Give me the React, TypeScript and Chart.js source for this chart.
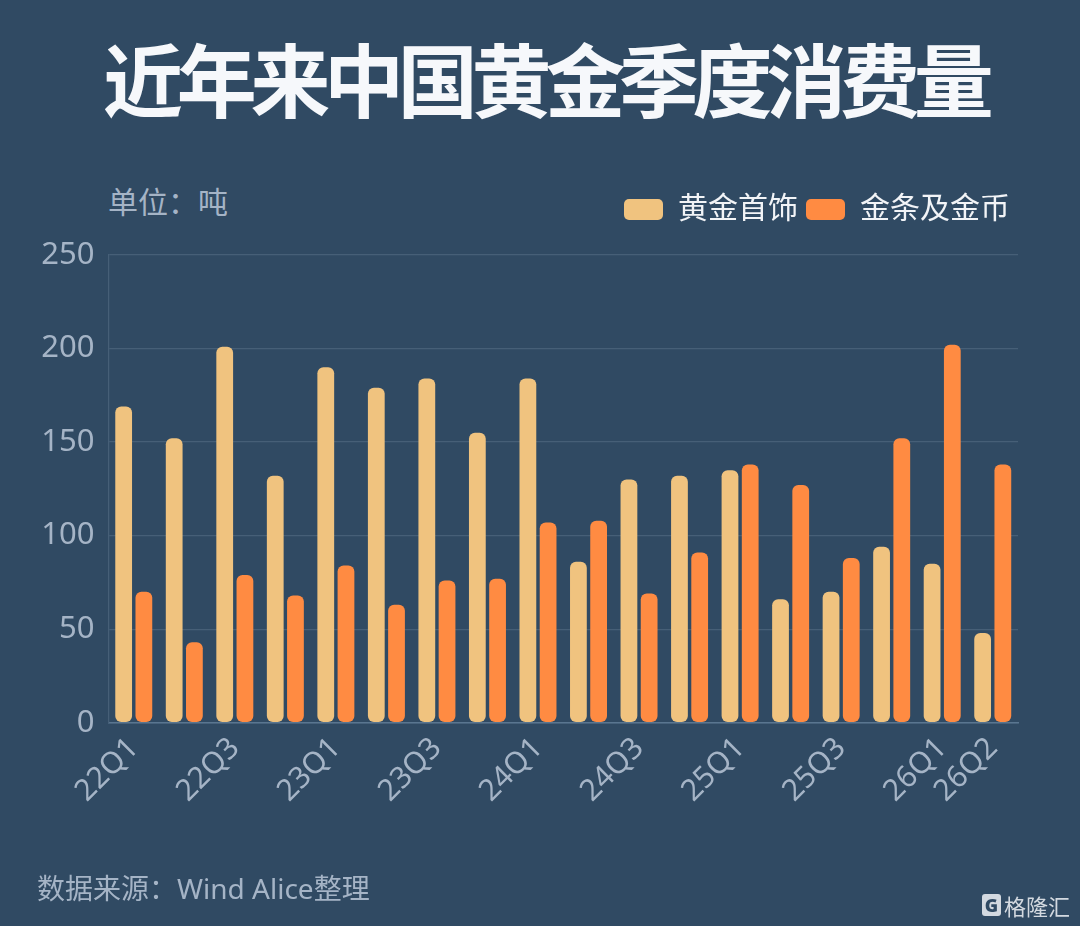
import React, { useEffect, useRef } from "react";
import { Chart, registerables } from "chart.js";

Chart.register(...registerables);

const categories = [
  "22Q1", "22Q2", "22Q3", "22Q4",
  "23Q1", "23Q2", "23Q3", "23Q4",
  "24Q1", "24Q2", "24Q3", "24Q4",
  "25Q1", "25Q2", "25Q3", "25Q4",
  "26Q1", "26Q2",
];
const jewelry = [169, 152, 201, 132, 190, 179, 184, 155, 184, 86, 130, 132, 135, 66, 70, 94, 85, 48];
const barsCoins = [70, 43, 79, 68, 84, 63, 76, 77, 107, 108, 69, 91, 138, 127, 88, 152, 202, 138];
const seriesNames = ["黄金首饰", "金条及金币"];
const yTicks = [0, 50, 100, 150, 200, 250];

const BG = "#304A63";
const TICK = "#A5B4C6";
const GRID = "#465F77";
const FONT = '"Noto Sans", "Noto Sans CJK SC", sans-serif';

export default function App() {
  const ref = useRef<HTMLCanvasElement | null>(null);

  useEffect(() => {
    if (!ref.current) return;
    const chart = new Chart(ref.current, {
      type: "bar",
      data: {
        labels: categories,
        datasets: [
          {
            label: seriesNames[0],
            data: jewelry,
            backgroundColor: "#F0C37F",
            borderRadius: 6,
            borderSkipped: false,
            barPercentage: 0.83,
            categoryPercentage: 0.8,
          },
          {
            label: seriesNames[1],
            data: barsCoins,
            backgroundColor: "#FF8B42",
            borderRadius: 6,
            borderSkipped: false,
            barPercentage: 0.83,
            categoryPercentage: 0.8,
          },
        ],
      },
      options: {
        responsive: false,
        maintainAspectRatio: false,
        animation: false,
        devicePixelRatio: 1,
        layout: { padding: { top: 186.5, left: 0, right: 62, bottom: 103.3 } },
        plugins: {
          legend: {
            display: true,
            position: "top",
            align: "end",
            labels: {
              boxWidth: 39,
              boxHeight: 21,
              padding: 8,
              color: "#F2F4F7",
              useBorderRadius: true,
              borderRadius: 5,
              font: { family: FONT, size: 30 },
            },
          },
          subtitle: {
            display: true,
            text: " ",
            weight: 100,
            position: "top",
            font: { size: 10, lineHeight: 1 },
            padding: { top: 5.25, bottom: 5.25 },
            color: "rgba(0,0,0,0)",
          },
          title: { display: false },
          tooltip: { enabled: false },
        },
        scales: {
          x: {
            grid: { display: false, drawTicks: false },
            border: { display: true, color: "#5A7690", width: 1.5 },
            ticks: {
              autoSkip: false,
              minRotation: 45,
              maxRotation: 45,
              padding: 8,
              color: TICK,
              font: { family: FONT, size: 30 },
              callback: function (_v: any, i: number) {
                return i % 2 === 0 || i === categories.length - 1 ? categories[i] : "";
              },
            },
            afterFit: (s: any) => {
              s.height = 100;
            },
          },
          y: {
            min: 0,
            max: 250,
            afterBuildTicks: (s: any) => {
              s.ticks = yTicks.map((v) => ({ value: v }));
            },
            grid: { color: GRID, lineWidth: 1.2, drawTicks: false },
            border: { display: true, color: GRID, width: 1.2 },
            ticks: {
              padding: 14,
              color: TICK,
              font: { family: FONT, size: 31 },
            },
            afterFit: (s: any) => {
              s.width = 108.5;
            },
          },
        },
      },
    });
    return () => chart.destroy();
  }, []);

  return (
    <div
      style={{
        position: "absolute",
        left: 0,
        top: 0,
        width: 1080,
        height: 926,
        background: BG,
        overflow: "hidden",
        fontFamily: FONT,
      }}
    >
      <div
        style={{
          position: "absolute",
          left: 103,
          top: 36,
          fontSize: 80,
          lineHeight: "80px",
          fontWeight: 700,
          color: "#F6F8FB",
          whiteSpace: "nowrap",
          letterSpacing: -6.3,
          fontFamily: '"Noto Sans CJK SC", sans-serif',
        }}
      >
        近年来中国黄金季度消费量
      </div>
      <div
        style={{
          position: "absolute",
          left: 108,
          top: 187,
          fontSize: 30,
          lineHeight: "30px",
          color: TICK,
          whiteSpace: "nowrap",
        }}
      >
        单位：吨
      </div>
      <canvas
        ref={ref}
        width={1080}
        height={926}
        style={{ position: "absolute", left: 0, top: 0, width: 1080, height: 926 }}
      />
      <div
        style={{
          position: "absolute",
          left: 37,
          top: 874,
          fontSize: 28,
          lineHeight: "28px",
          color: TICK,
          whiteSpace: "nowrap",
        }}
      >
        数据来源：Wind Alice整理
      </div>
      <div
        style={{
          position: "absolute",
          left: 982,
          top: 893,
          height: 24,
          display: "flex",
          alignItems: "center",
          color: "#D3D9E0",
          whiteSpace: "nowrap",
        }}
      >
        <span
          style={{
            display: "inline-block",
            width: 19,
            height: 22,
            background: "#D3D9E0",
            color: BG,
            fontWeight: 900,
            fontSize: 18,
            lineHeight: "22px",
            textAlign: "center",
            borderRadius: 3,
            marginRight: 3,
          }}
        >
          G
        </span>
        <span style={{ fontSize: 22, lineHeight: "24px", fontFamily: '"Noto Sans CJK SC", sans-serif' }}>格隆汇</span>
      </div>
    </div>
  );
}
